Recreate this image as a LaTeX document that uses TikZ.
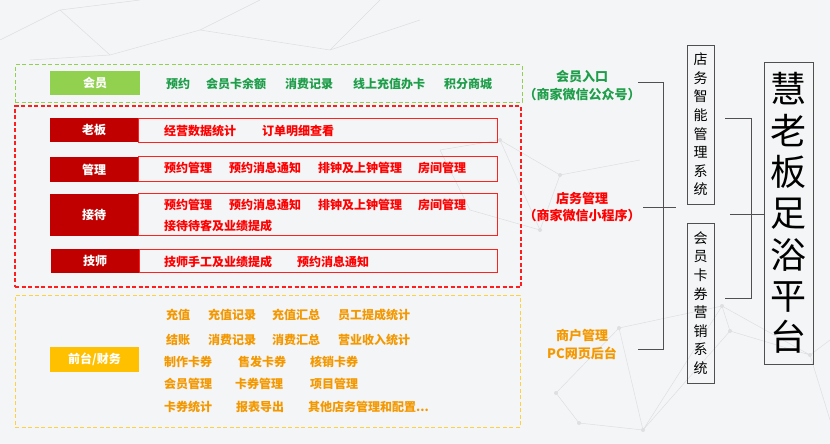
\documentclass[tikz,border=0pt]{standalone}
\usepackage{fontspec}
\setmainfont{Noto Sans CJK SC}
\definecolor{bgc}{HTML}{F4F5F6}
\definecolor{netc}{HTML}{DDDFE2}
\definecolor{gblock}{HTML}{92D050}
\definecolor{gtext}{HTML}{1E9E4A}
\definecolor{rblock}{HTML}{C00000}
\definecolor{rline}{HTML}{FF2020}
\definecolor{rtext}{HTML}{FF0000}
\definecolor{reddash}{RGB}{255,30,30}
\definecolor{oblock}{HTML}{FFC000}
\definecolor{odash}{HTML}{FFD040}
\definecolor{otext}{HTML}{F39800}
\definecolor{conn}{HTML}{505050}
\tikzset{
  item/.style={anchor=west, inner sep=0pt, font=\fontsize{12}{14}\selectfont\bfseries},
  gitem/.style={item, text=gtext},
  ritem/.style={item, text=rtext},
  oitem/.style={item, text=otext},
  blk/.style={inner sep=0pt, text=white, font=\fontsize{12}{14}\selectfont\bfseries, minimum width=88pt},
  frame/.style={line width=1pt, dash pattern=on 4pt off 2.5pt, inner sep=0pt},
  rowbox/.style={draw=rline, line width=1pt, inner sep=0pt, minimum width=359pt},
  lab/.style={align=center, inner sep=0pt, font=\fontsize{13}{17.5}\selectfont\bfseries},
  sysbox/.style={draw=conn, line width=0.9pt, inner sep=0pt, align=center, minimum width=27pt, font=\fontsize{14}{18.6}\selectfont},
  connl/.style={draw=conn, line width=0.9pt},
  net/.style={draw=netc, line width=0.5pt},
  netdot/.style={fill=netc}
}
\begin{document}
\begin{tikzpicture}[x=1pt,y=-1pt]
\useasboundingbox (0,0) rectangle (830,444);
\fill[bgc] (0,0) rectangle (830,444);

% faint background network
\draw[net] (0,40) -- (60,10) -- (140,0) (60,10) -- (110,55) -- (200,30) -- (260,0)
  (110,55) -- (30,60) (200,30) -- (330,50) -- (380,0) (330,50) -- (420,20);
\draw[net] (440,150) -- (500,140) -- (560,175) -- (540,230) -- (470,210) -- (440,150)
  (500,140) -- (540,230) (560,175) -- (640,160);
\draw[net] (556,393) -- (619,328) -- (722,306) -- (810,355) -- (830,340)
  (619,328) -- (643,430) -- (722,306) (556,393) -- (579,423) -- (643,430)
  (722,306) -- (730,331) -- (810,355) (730,331) -- (643,430) (810,355) -- (830,420);
\foreach \p in {(556,393),(619,328),(722,306),(810,355),(579,423),(643,430),(730,331),(500,140),(560,175),(540,230)}
  \fill[netdot] \p circle (2pt);

% dashed frames
\node[frame, draw=gblock, minimum width=507pt, minimum height=37pt] (gframe) at (268.5,83.5) {};
\node[frame, draw=reddash, line width=1.2pt, minimum width=506pt, minimum height=181pt] (rframe) at (268,196.5) {};
\node[frame, draw=odash, minimum width=505pt, minimum height=132pt] (oframe) at (267.5,361) {};

% member row
\node[blk, fill=gblock, minimum width=90pt, minimum height=24pt] (hy) at (95,83) {会员};
\node[gitem] (g1) at (166,84) {预约};
\node[gitem] (g2) at (206,84) {会员卡余额};
\node[gitem] (g3) at (285,84) {消费记录};
\node[gitem] (g4) at (353,84) {线上充值办卡};
\node[gitem] (g5) at (444,84) {积分商城};

% red rows
\node[rowbox, minimum height=24pt] (r1) at (317.5,130) {};
\node[blk, fill=rblock, minimum height=24pt] (lb) at (94,130) {老板};
\node[ritem] (r1a) at (164,131) {经营数据统计};
\node[ritem] (r1b) at (262,131) {订单明细查看};

\node[rowbox, minimum height=25pt] (r2) at (317.5,168.5) {};
\node[blk, fill=rblock, minimum height=25pt] (gl) at (94,169.5) {管理};
\node[ritem] (r2a) at (164,168) {预约管理};
\node[ritem] (r2b) at (229,168) {预约消息通知};
\node[ritem] (r2c) at (318,168) {排钟及上钟管理};
\node[ritem] (r2d) at (418,168) {房间管理};

\node[rowbox, minimum height=42pt] (r3) at (317.5,214) {};
\node[blk, fill=rblock, minimum height=42pt] (jd) at (94,215) {接待};
\node[ritem] (r3a) at (164,205) {预约管理};
\node[ritem] (r3b) at (229,205) {预约消息通知};
\node[ritem] (r3c) at (318,205) {排钟及上钟管理};
\node[ritem] (r3d) at (418,205) {房间管理};
\node[ritem] (r3e) at (164,226) {接待待客及业绩提成};

\node[rowbox, minimum width=358pt, minimum height=23pt] (r4) at (318,260.5) {};
\node[blk, fill=rblock, minimum height=24pt] (js) at (95,261) {技师};
\node[ritem] (r4a) at (164,262) {技师手工及业绩提成};
\node[ritem] (r4b) at (297,262) {预约消息通知};

% front desk / finance
\node[blk, fill=oblock, minimum width=89pt, minimum height=25pt] (qt) at (94.5,359.5) {前台/财务};
\node[oitem] (o11) at (166,315) {充值};
\node[oitem] (o12) at (208,315) {充值记录};
\node[oitem] (o13) at (272,315) {充值汇总};
\node[oitem] (o14) at (338,315) {员工提成统计};
\node[oitem] (o21) at (166,340) {结账};
\node[oitem] (o22) at (208,340) {消费记录};
\node[oitem] (o23) at (272,340) {消费汇总};
\node[oitem] (o24) at (338,340) {营业收入统计};
\node[oitem] (o31) at (164,362) {制作卡券};
\node[oitem] (o32) at (238,362) {售发卡券};
\node[oitem] (o33) at (310,362) {核销卡券};
\node[oitem] (o41) at (164,384) {会员管理};
\node[oitem] (o42) at (235,384) {卡券管理};
\node[oitem] (o43) at (310,384) {项目管理};
\node[oitem] (o51) at (164,407) {卡券统计};
\node[oitem] (o52) at (236,407) {报表导出};
\node[oitem] (o53) at (308,407) {其他店务管理和配置...};

% channel labels
\node[lab, text=gtext] (ch1) at (582,85.5) {会员入口\\（商家微信公众号）};
\node[lab, text=rtext] (ch2) at (582,207) {店务管理\\（商家微信小程序）};
\node[lab, text=otext] (ch3) at (582,344.5) {商户管理\\PC网页后台};

% systems
\node[sysbox, minimum height=159pt] (sys1) at (700.5,124.5) {店\\务\\智\\能\\管\\理\\系\\统};
\node[sysbox, minimum height=160pt] (sys2) at (700.5,303) {会\\员\\卡\\券\\营\\销\\系\\统};
\node[draw=conn, line width=0.9pt, inner sep=0pt, align=center, minimum width=49pt, minimum height=302pt, font=\fontsize{36}{41.3}\selectfont] (plat) at (788.5,213) {慧\\老\\板\\足\\浴\\平\\台};

% connectors
\coordinate (b1a) at (638,82);
\coordinate (b1t) at (663,82);
\coordinate (b1b) at (663,349);
\coordinate (b1c) at (638,349);
\coordinate (b1m) at (643,207);
\coordinate (b1n) at (676,207);
\draw[connl] (b1a) -- (b1t) -- (b1b) -- (b1c);
\draw[connl] (b1m) -- (b1n);
\coordinate (b2a) at (725,118);
\coordinate (b2t) at (751,118);
\coordinate (b2b) at (751,298);
\coordinate (b2c) at (725,298);
\coordinate (b2m) at (730,214);
\draw[connl] (b2a) -- (b2t) -- (b2b) -- (b2c);
\draw[connl] (b2m) -- (b2m -| plat.west);
\end{tikzpicture}
\end{document}
